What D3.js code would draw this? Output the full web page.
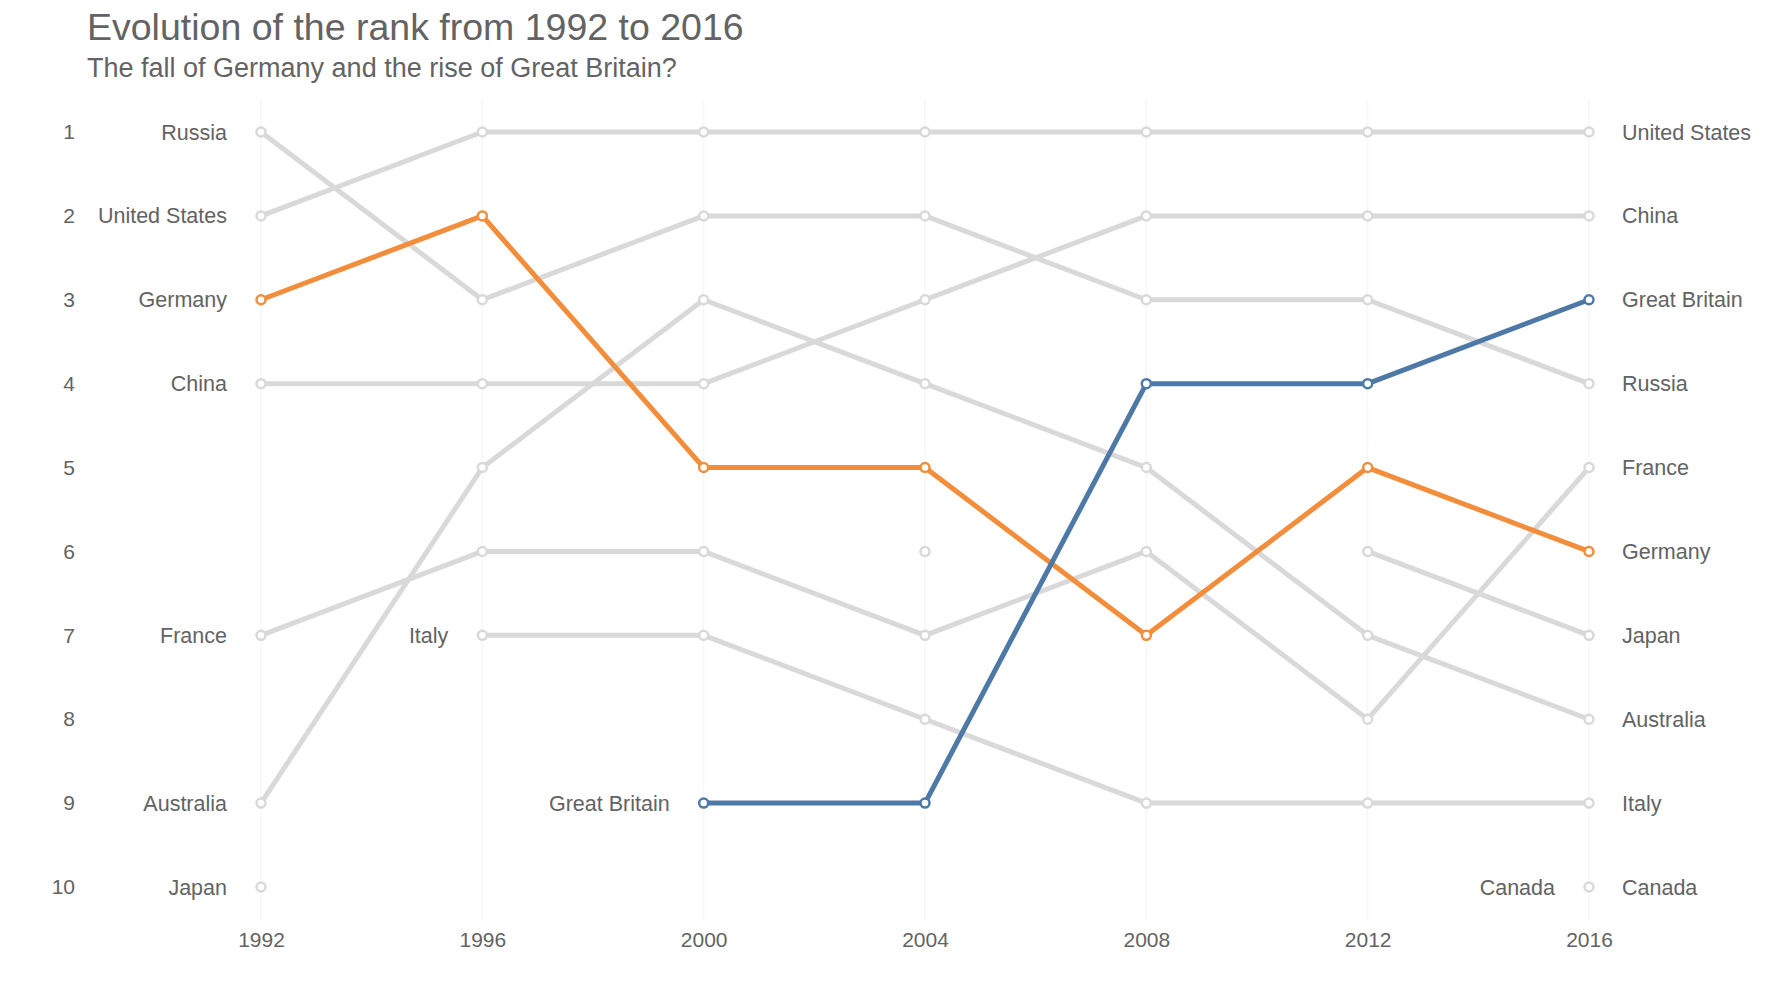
<!DOCTYPE html>
<html><head><meta charset="utf-8">
<script src="https://cdn.jsdelivr.net/npm/d3@7"></script>
<style>body{margin:0;background:#fff}text{font-family:"Liberation Sans",Arial,sans-serif}</style>
</head><body>
<script>
const years = [1992, 1996, 2000, 2004, 2008, 2012, 2016];
const ranks = [1, 2, 3, 4, 5, 6, 7, 8, 9, 10];
// rank per year, null = not in top 10
const russia = [1, 3, 2, 2, 3, 3, 4];
const unitedStates = [2, 1, 1, 1, 1, 1, 1];
const germany = [3, 2, 5, 5, 7, 5, 6];
const china = [4, 4, 4, 3, 2, 2, 2];
const france = [7, 6, 6, 7, 6, 8, 5];
const australia = [9, 5, 3, 4, 5, 7, 8];
const japan = [10, null, null, 6, null, 6, 7];
const italy = [null, 7, 7, 8, 9, 9, 9];
const greatBritain = [null, null, 9, 9, 4, 4, 3];
const canada = [null, null, null, null, null, null, 10];

const series = [
  {name: 'Russia', ranks: russia},
  {name: 'United States', ranks: unitedStates},
  {name: 'China', ranks: china},
  {name: 'France', ranks: france},
  {name: 'Australia', ranks: australia},
  {name: 'Japan', ranks: japan},
  {name: 'Italy', ranks: italy},
  {name: 'Canada', ranks: canada},
  {name: 'Germany', ranks: germany, color: '#f28e3b'},
  {name: 'Great Britain', ranks: greatBritain, color: '#4e79a7'}
];

const width = 1776, height = 999, grey = '#d9d9d9', textColor = '#636363';

const svg = d3.select('body').append('svg')
  .attr('width', width).attr('height', height);

const x = d3.scaleLinear().domain([1992, 2016]).range([261, 1598 - 9]);
const y = d3.scaleLinear().domain([1, 10]).range([132, 887]);

svg.append('text').attr('x', 87).attr('y', 40)
  .style('font-size', '37.5px').attr('fill', textColor)
  .text('Evolution of the rank from 1992 to 2016');
svg.append('text').attr('x', 87).attr('y', 77)
  .style('font-size', '27px').attr('fill', textColor)
  .text('The fall of Germany and the rise of Great Britain?');

// vertical grid
svg.selectAll('.grid').data(years).enter().append('line')
  .attr('x1', d => x(d)).attr('x2', d => x(d))
  .attr('y1', 100).attr('y2', 920)
  .attr('stroke', '#f3f3f3').attr('stroke-width', 1);

// year axis
const xAxis = d3.axisBottom(x).tickValues(years).tickFormat(d3.format('d')).tickSize(0).tickPadding(0);
const gx = svg.append('g').attr('transform', 'translate(0,930)').call(xAxis);
gx.select('.domain').remove();
gx.selectAll('text').style('font-size', '21px').attr('fill', textColor).attr('dy', '0.8em');

// rank axis
const yAxis = d3.axisLeft(y).tickValues(ranks).tickSize(0).tickPadding(0);
const gy = svg.append('g').attr('transform', 'translate(75,0)').call(yAxis);
gy.select('.domain').remove();
gy.selectAll('text').style('font-size', '21px').attr('fill', textColor);

const line = d3.line()
  .defined(d => d.r !== null)
  .x(d => x(d.year)).y(d => y(d.r));

series.forEach(s => {
  const pts = years.map((yr, i) => ({year: yr, r: s.ranks[i]}));
  const col = s.color || grey;
  svg.append('path').attr('d', line(pts))
    .attr('fill', 'none').attr('stroke', col).attr('stroke-width', 5)
    .attr('stroke-linejoin', 'round');
  svg.selectAll(null).data(pts.filter(d => d.r !== null)).enter().append('circle')
    .attr('cx', d => x(d.year)).attr('cy', d => y(d.r)).attr('r', 4.5)
    .attr('fill', '#fff').attr('stroke', col).attr('stroke-width', 2.5);
  const first = pts.find(d => d.r !== null);
  svg.append('text').attr('x', x(first.year) - 34).attr('y', y(first.r))
    .attr('dy', '0.35em').attr('text-anchor', 'end')
    .style('font-size', '21.5px').attr('fill', textColor).text(s.name);
  const last = pts[pts.length - 1];
  if (last.r !== null) {
    svg.append('text').attr('x', x(last.year) + 33).attr('y', y(last.r))
      .attr('dy', '0.35em').style('font-size', '21.5px').attr('fill', textColor).text(s.name);
  }
});
</script>
</body></html>
